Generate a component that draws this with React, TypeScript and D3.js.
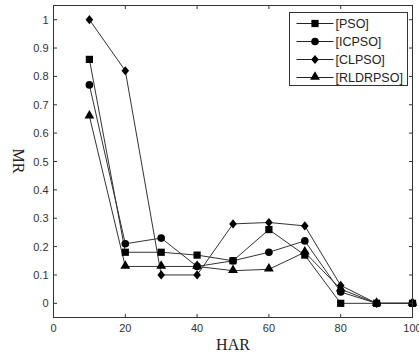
import React from "react";
import * as d3 from "d3";

const har = [10, 20, 30, 40, 50, 60, 70, 80, 90, 100];
const pso = [0.86, 0.18, 0.18, 0.17, 0.15, 0.26, 0.17, 0, 0, 0];
const icpso = [0.77, 0.21, 0.23, 0.13, 0.15, 0.18, 0.22, 0.04, 0, 0];
const clpso = [1.0, 0.82, 0.1, 0.1, 0.28, 0.285, 0.273, 0.063, 0, 0];
const rldrpso = [0.66, 0.13, 0.13, 0.13, 0.115, 0.12, 0.18, 0.05, 0, 0];
const seriesNames = ["[PSO]", "[ICPSO]", "[CLPSO]", "[RLDRPSO]"];
const xTicks = [0, 20, 40, 60, 80, 100];
const yTicks = [0, 0.1, 0.2, 0.3, 0.4, 0.5, 0.6, 0.7, 0.8, 0.9, 1];

const W = 419, H = 354;
const L = 53.5, R = 412.5, T = 5.5, B = 317.5;

const x = d3.scaleLinear().domain([0, 100]).range([L, R]);
const y = d3.scaleLinear().domain([-0.05, 1.05]).range([B, T]);

const diamondPath = "M0,-4.6L3.8,0L0,4.6L-3.8,0Z";

function Marker({ i, cx, cy }: { i: number; cx: number; cy: number }) {
  let p = "";
  if (i === 0) p = d3.symbol().type(d3.symbolSquare).size(52)() || "";
  else if (i === 1) p = d3.symbol().type(d3.symbolCircle).size(46)() || "";
  else if (i === 2) p = diamondPath;
  else p = d3.symbol().type(d3.symbolTriangle).size(42)() || "";
  const tr = i === 3 ? `translate(${cx},${cy - 0.5})` : `translate(${cx},${cy})`;
  return <path d={p} transform={tr} fill="#000" />;
}

const data = [pso, icpso, clpso, rldrpso];

export default function App() {
  const line = d3.line<number>().x((_, j) => x(har[j])).y((v) => y(v));
  const axisColor = "#333";
  const font = "'Liberation Sans', Arial, sans-serif";
  return (
    <svg width={W} height={H} style={{ position: "absolute", left: 0, top: 0 }}>
      <rect x={0} y={0} width={W} height={H} fill="#fff" />
      {data.map((d, i) => (
        <path key={"l" + i} d={line(d) || ""} fill="none" stroke="#333" strokeWidth={1} />
      ))}
      {data.map((d, i) =>
        d.map((v, j) => <Marker key={`m${i}-${j}`} i={i} cx={x(har[j])} cy={y(v)} />)
      )}
      <rect x={L} y={T} width={R - L} height={B - T} fill="none" stroke={axisColor} strokeWidth={1} />
      {xTicks.map((t) => (
        <g key={"xt" + t}>
          <line x1={x(t)} x2={x(t)} y1={B} y2={B - 3.5} stroke={axisColor} />
          <line x1={x(t)} x2={x(t)} y1={T} y2={T + 3.5} stroke={axisColor} />
          <text x={x(t)} y={332} textAnchor="middle" fontFamily={font} fontSize={11} fill="#333">
            {t}
          </text>
        </g>
      ))}
      {yTicks.map((t) => (
        <g key={"yt" + t}>
          <line x1={L} x2={L + 3.5} y1={y(t)} y2={y(t)} stroke={axisColor} />
          <line x1={R} x2={R - 3.5} y1={y(t)} y2={y(t)} stroke={axisColor} />
          <text x={48.5} y={y(t) + 4} textAnchor="end" fontFamily={font} fontSize={11} fill="#333">
            {t === 0 || t === 1 ? String(t) : t.toFixed(1)}
          </text>
        </g>
      ))}
      <text x={233} y={350} textAnchor="middle" fontFamily="'Liberation Serif', 'Times New Roman', serif" fontSize={16} fill="#222">
        HAR
      </text>
      <text
        transform={`translate(13,161) rotate(90)`}
        textAnchor="middle"
        fontFamily="'Liberation Serif', 'Times New Roman', serif"
        fontSize={16}
        fill="#222"
      >
        MR
      </text>
      <rect x={289.5} y={12.5} width={118} height={73} fill="#fff" stroke={axisColor} strokeWidth={1} />
      {seriesNames.map((n, i) => {
        const ly = 23.5 + i * 18;
        return (
          <g key={"lg" + i}>
            <line x1={296.5} x2={333.5} y1={ly} y2={ly} stroke="#222" strokeWidth={1} />
            <Marker i={i} cx={315} cy={ly} />
            <text x={335.5} y={ly + 4.5} fontFamily={font} fontSize={12.5} fill="#222">
              {n}
            </text>
          </g>
        );
      })}
    </svg>
  );
}
